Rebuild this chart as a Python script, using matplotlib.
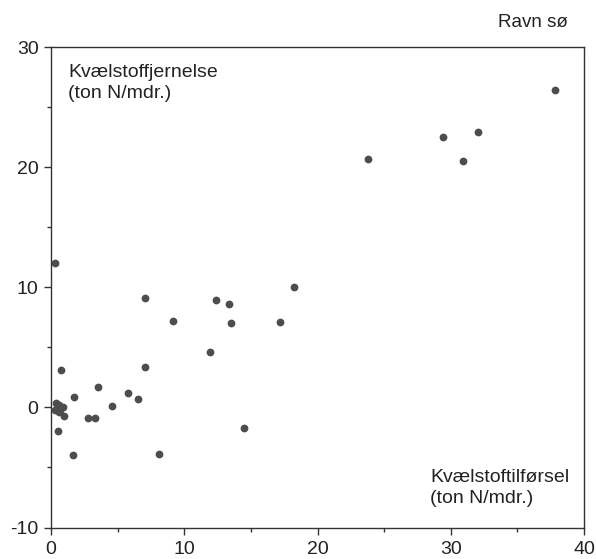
import numpy as np
import matplotlib
matplotlib.use("Agg")
import matplotlib.pyplot as plt
from matplotlib.ticker import MultipleLocator

# Nitrogen supply vs. nitrogen removal, Ravn sø (ton N / month)
supply = [0.3, 0.35, 0.6, 0.9, 0.3, 0.6, 1.0, 0.7, 0.75, 0.55, 1.65, 1.75,
          2.8, 3.3, 3.5, 4.6, 5.8, 6.5, 7.04, 7.07, 8.1, 9.15, 11.9, 12.4,
          13.36, 13.5, 14.5, 17.2, 18.25, 23.8, 29.4, 30.95, 32.05, 37.8]
removal = [12.0, 0.4, 0.2, 0.0, -0.2, -0.4, -0.7, -0.2, 3.1, -1.95, -3.95, 0.86,
           -0.86, -0.86, 1.7, 0.1, 1.2, 0.67, 9.08, 3.33, -3.86, 7.2, 4.6, 8.9,
           8.64, 7.03, -1.75, 7.1, 10.0, 20.7, 22.5, 20.5, 22.9, 26.4]

x_ticks = [0, 10, 20, 30, 40]
y_ticks = [-10, 0, 10, 20, 30]

plt.rcParams['font.family'] = ['Liberation Sans', 'DejaVu Sans']
plt.rcParams['axes.unicode_minus'] = False

W, H = 596, 559
fig = plt.figure(figsize=(W / 100, H / 100), dpi=100, facecolor='white')
ax = fig.add_axes([51 / W, 1 - 527.5 / H, 533 / W, 480.5 / H])

ax.plot(supply, removal, 'o', color='#4d4d4d', markersize=5.6, markeredgewidth=0)

ax.set_xlim(0, 40)
ax.set_ylim(-10, 30)
ax.set_xticks(x_ticks)
ax.set_yticks(y_ticks)
ax.xaxis.set_minor_locator(MultipleLocator(5))
ax.yaxis.set_minor_locator(MultipleLocator(5))

for spine in ax.spines.values():
    spine.set_color('#333333')
    spine.set_linewidth(1.0)

ax.tick_params(which='major', direction='out', length=5, width=1.0,
               color='#333333', labelsize=14, labelcolor='#222222')
ax.tick_params(axis='x', which='major', pad=5)
ax.tick_params(axis='y', which='major', pad=4)
ax.tick_params(which='minor', direction='out', length=3, width=1.0, color='#333333')

fig.text(68 / W, 1 - 64 / H, 'Kvælstoffjernelse\n(ton N/mdr.)',
         ha='left', va='top', fontsize=14, color='#222222', linespacing=1.3)
fig.text(430 / W, 1 - 469 / H, 'Kvælstoftilførsel\n(ton N/mdr.)',
         ha='left', va='top', fontsize=14, color='#222222', linespacing=1.3)
fig.text(568 / W, 1 - 22.7 / H, 'Ravn sø', ha='right', va='center',
         fontsize=13.5, color='#222222')

fig.savefig('out.png', dpi=100, facecolor='white')
